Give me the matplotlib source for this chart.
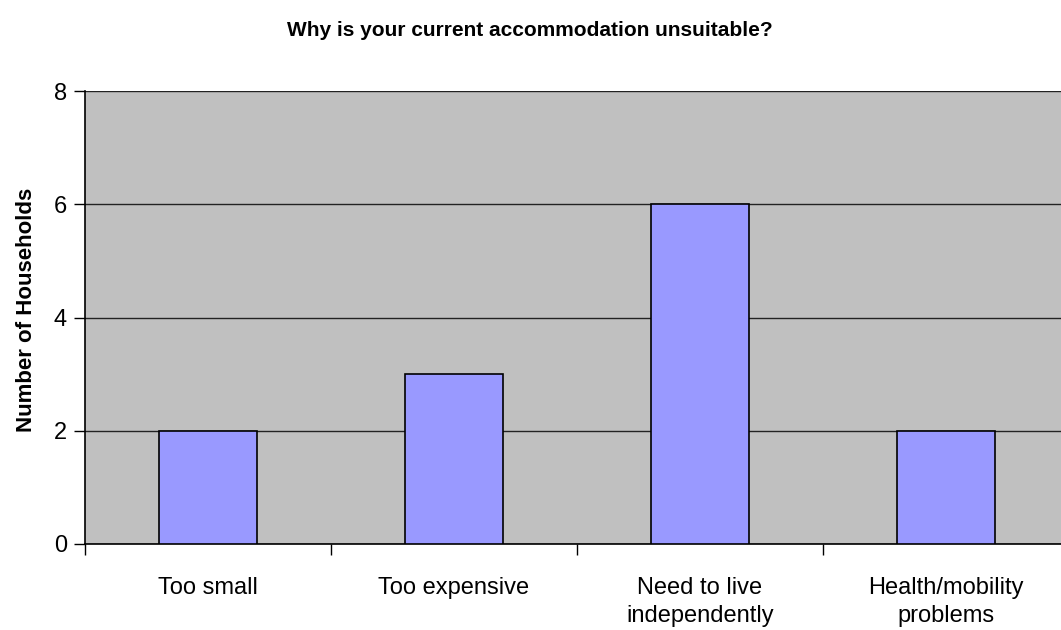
import matplotlib
matplotlib.use("Agg")
import matplotlib.pyplot as plt
import numpy as np

categories = ["Too small", "Too expensive", "Need to live\nindependently", "Health/mobility\nproblems"]
households = [2, 3, 6, 2]
y_ticks = [0, 2, 4, 6, 8]

plt.rcParams["font.family"] = ["Liberation Sans", "DejaVu Sans"]

W, H = 1061, 630
fig = plt.figure(figsize=(W / 100.0, H / 100.0), dpi=100)
# plot area runs off the right edge like the original
ax = fig.add_axes([85.0 / W, (H - 544.0) / H, 984.0 / W, (544.0 - 91.0) / H])
ax.set_facecolor("#C0C0C0")

x = np.arange(len(categories))
ax.bar(x, households, width=0.4, color="#9999FF", edgecolor="black", linewidth=1.2, zorder=3)

ax.set_xlim(-0.5, len(categories) - 0.5)
ax.set_ylim(0, 8)
ax.set_yticks(y_ticks)
ax.yaxis.grid(True, color="#222222", linewidth=1.0, zorder=1)
ax.set_axisbelow(True)

# category ticks sit on the boundaries, labels in the middle
ax.set_xticks(np.arange(len(categories) + 1) - 0.5)
ax.set_xticklabels([])
ax.set_xticks(x, minor=True)
ax.set_xticklabels(categories, minor=True, fontsize=17, linespacing=1.32)
ax.tick_params(axis="x", which="minor", length=0, pad=24)
ax.tick_params(axis="x", which="major", length=8, width=1, direction="out")
ax.tick_params(axis="y", length=8, width=1, direction="out", labelsize=17, pad=5)

for side in ["top", "right"]:
    ax.spines[side].set_visible(False)
ax.spines["left"].set_linewidth(1.2)
ax.spines["bottom"].set_linewidth(1.2)

ax.set_ylabel("Number of Households", fontsize=16, fontweight="bold")
ax.yaxis.set_label_coords(-0.049, 0.517)
fig.text(530.0 / W, 1 - 31.0 / H, "Why is your current accommodation unsuitable?",
         ha="center", va="center", fontsize=15, fontweight="bold")

plt.savefig("out.png", dpi=100)
